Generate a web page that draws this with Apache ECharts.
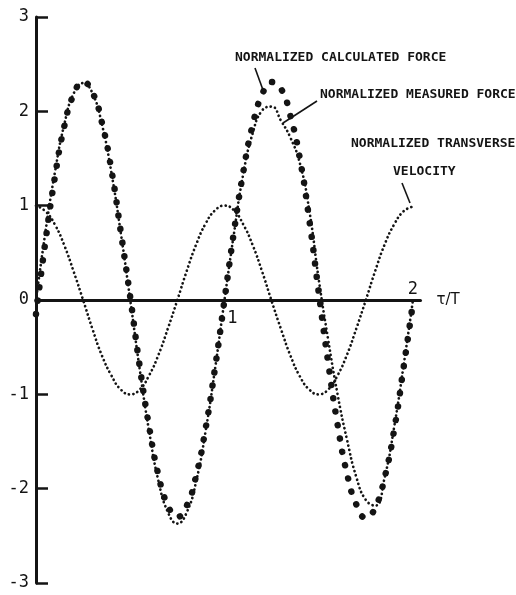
<!DOCTYPE html>
<html>
<head>
<meta charset="utf-8">
<script src="https://cdn.jsdelivr.net/npm/echarts@6/dist/echarts.min.js"></script>
<style>
  html, body { margin: 0; padding: 0; background: #ffffff; }
  #chart { width: 516px; height: 595px; }
</style>
</head>
<body>
<div id="chart"></div>
<script>
// Time axis, normalised by the period T
const tOverT = [
  0.00, 0.05, 0.10, 0.15, 0.20, 0.25, 0.30, 0.35, 0.40, 0.45,
  0.50, 0.55, 0.60, 0.65, 0.70, 0.75, 0.80, 0.85, 0.90, 0.95,
  1.00, 1.05, 1.10, 1.15, 1.20, 1.25, 1.30, 1.35, 1.40, 1.45,
  1.50, 1.55, 1.60, 1.65, 1.70, 1.75, 1.80, 1.85, 1.90, 1.95,
  2.00
];

// Normalized calculated force (large dots)
const calculatedForce = [
  -0.15, 0.62, 1.30, 1.84, 2.18, 2.31, 2.20, 1.88, 1.38, 0.72,
   0.03, -0.70, -1.34, -1.86, -2.18, -2.30, -2.18, -1.86, -1.36, -0.72,
   0.00, 0.72, 1.36, 1.86, 2.18, 2.31, 2.24, 1.95, 1.50, 0.85,
   0.08, -0.66, -1.32, -1.84, -2.17, -2.31, -2.20, -1.88, -1.38, -0.72,
  -0.03
];

// Normalized measured force (small dots)
const measuredForce = [
   0.00, 0.72, 1.35, 1.86, 2.19, 2.30, 2.19, 1.86, 1.35, 0.71,
   0.00, -0.73, -1.39, -1.92, -2.25, -2.37, -2.25, -1.92, -1.39, -0.73,
   0.00, 0.70, 1.34, 1.77, 2.01, 2.05, 1.90, 1.72, 1.45, 0.95,
   0.22, -0.42, -1.00, -1.48, -1.88, -2.12, -2.18, -1.88, -1.35, -0.70,
   0.00
];

// Normalized transverse velocity (small dots)
const transverseVelocity = [
   1.00, 0.94, 0.80, 0.58, 0.30, 0.00, -0.31, -0.59, -0.80, -0.95,
  -1.00, -0.95, -0.80, -0.58, -0.30, 0.00, 0.31, 0.59, 0.81, 0.95,
   1.00, 0.95, 0.80, 0.58, 0.30, -0.01, -0.31, -0.59, -0.81, -0.95,
  -1.00, -0.95, -0.80, -0.58, -0.30, 0.00, 0.31, 0.59, 0.80, 0.94,
   0.99
];

// Labels along the time axis
const xTickValues = [1, 2];
const xTickText = ['1', '2'];

const INK = '#141414';
const MONO = '"DejaVu Sans Mono", monospace';

const chart = echarts.init(document.getElementById('chart'), null, { renderer: 'canvas' });

function pairs(values) {
  return tOverT.map((t, i) => [t, values[i]]);
}

const option = {
  animation: false,
  backgroundColor: '#ffffff',
  grid: { left: 36, right: 95.5, top: 17, bottom: 12, containLabel: false },
  xAxis: {
    type: 'value',
    min: 0,
    max: 2.04,
    axisLine: { show: true, onZero: true, lineStyle: { color: INK, width: 3 } },
    axisTick: { show: false },
    axisLabel: { show: false },
    splitLine: { show: false },
    name: 'τ/T',
    nameLocation: 'end',
    nameGap: 16,
    nameTextStyle: { color: INK, fontFamily: '"DejaVu Sans", sans-serif', fontSize: 15, verticalAlign: 'middle' }
  },
  yAxis: {
    type: 'value',
    min: -3,
    max: 3,
    interval: 1,
    axisLine: { show: true, onZero: false, lineStyle: { color: INK, width: 3 } },
    axisTick: { show: true, inside: true, length: 12, lineStyle: { color: INK, width: 2.5 } },
    axisLabel: { margin: 7, color: INK, fontFamily: MONO, fontSize: 17 },
    splitLine: { show: false }
  },
  series: [
    {
      name: 'NORMALIZED TRANSVERSE VELOCITY',
      type: 'line',
      data: pairs(transverseVelocity),
      smooth: true,
      showSymbol: false,
      symbol: 'none',
      lineStyle: { color: INK, width: 2.7, type: [0.1, 4.3], cap: 'round' }
    },
    {
      name: 'NORMALIZED MEASURED FORCE',
      type: 'line',
      data: pairs(measuredForce),
      smooth: true,
      showSymbol: false,
      symbol: 'none',
      lineStyle: { color: INK, width: 2.7, type: [0.1, 4.3], cap: 'round' }
    },
    {
      name: 'NORMALIZED CALCULATED FORCE',
      type: 'line',
      data: pairs(calculatedForce),
      smooth: true,
      showSymbol: false,
      symbol: 'none',
      lineStyle: { color: INK, width: 6.5, type: [0.1, 13.5], cap: 'round' }
    }
  ]
};

chart.setOption(option);

// Annotations with leader lines, plus the time-axis labels placed through the axis scale
const annoFont = { fill: INK, font: 'bold 13px ' + MONO, textVerticalAlign: 'middle' };
const graphics = [
  { type: 'text', left: 235, top: 51, style: Object.assign({ text: 'NORMALIZED CALCULATED FORCE' }, annoFont) },
  { type: 'text', left: 320, top: 88, style: Object.assign({ text: 'NORMALIZED MEASURED FORCE' }, annoFont) },
  { type: 'text', left: 351, top: 137, style: Object.assign({ text: 'NORMALIZED TRANSVERSE' }, annoFont) },
  { type: 'text', left: 393, top: 165, style: Object.assign({ text: 'VELOCITY' }, annoFont) },
  { type: 'line', shape: { x1: 255, y1: 68, x2: 263, y2: 90 }, style: { stroke: INK, lineWidth: 1.6 } },
  { type: 'line', shape: { x1: 317, y1: 101, x2: 283, y2: 123 }, style: { stroke: INK, lineWidth: 1.6 } },
  { type: 'line', shape: { x1: 402, y1: 183, x2: 410, y2: 203 }, style: { stroke: INK, lineWidth: 1.6 } }
];

xTickValues.forEach((v, i) => {
  const p = chart.convertToPixel({ gridIndex: 0 }, [v, 0]);
  const below = i === 0;
  graphics.push({
    type: 'text',
    x: p[0] + (below ? 8 : 0),
    y: p[1] + (below ? 19 : -10),
    style: {
      text: xTickText[i],
      fill: INK,
      font: '17px ' + MONO,
      textAlign: 'center',
      textVerticalAlign: 'middle'
    }
  });
});

chart.setOption({ graphic: graphics });
</script>
</body>
</html>
